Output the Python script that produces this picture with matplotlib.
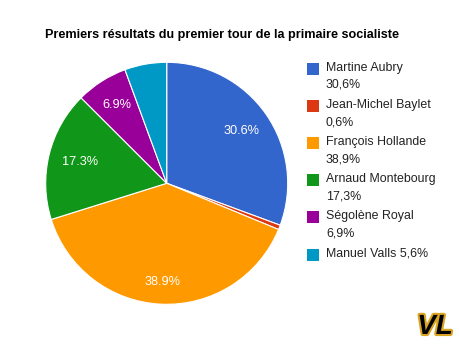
import matplotlib
matplotlib.use("Agg")
import matplotlib.pyplot as plt
import matplotlib.patheffects as pe
from matplotlib.patches import Rectangle
import numpy as np

plt.rcParams['font.family'] = ['Liberation Sans', 'DejaVu Sans']

title = "Premiers résultats du premier tour de la primaire socialiste"
candidates = ["Martine Aubry", "Jean-Michel Baylet", "François Hollande",
              "Arnaud Montebourg", "Ségolène Royal", "Manuel Valls"]
scores = [30.6, 0.6, 38.9, 17.3, 6.9, 5.6]
legend_labels = ["Martine Aubry\n30,6%", "Jean-Michel Baylet\n0,6%",
                 "François Hollande\n38,9%", "Arnaud Montebourg\n17,3%",
                 "Ségolène Royal\n6,9%", "Manuel Valls 5,6%"]
colors = ["#3366cc", "#dc3912", "#ff9900", "#109618", "#990099", "#0099c6"]

W, H = 460, 346
fig = plt.figure(figsize=(W / 100, H / 100), dpi=100)

# pie, centre (166.7, 183.3) px, radius 121 px
cx, cy, r = 166.7, 183.3, 121
ax = fig.add_axes([(cx - r) / W, (H - cy - r) / H, 2 * r / W, 2 * r / H])
wedges, _ = ax.pie(scores, colors=colors, startangle=90, counterclock=False,
                   wedgeprops=dict(edgecolor="white", linewidth=0.8))
ax.set_xlim(-1, 1)
ax.set_ylim(-1, 1)
ax.axis("off")

# slice labels (only for slices big enough)
label_r = [0.75, 0, 0.82, 0.74, 0.77, 0]
for w, v, d in zip(wedges, scores, label_r):
    if v < 6:
        continue
    mid = np.deg2rad((w.theta1 + w.theta2) / 2)
    ax.text(d * np.cos(mid), d * np.sin(mid), f"{v:.1f}%", color="white",
            fontsize=9.2, ha="center", va="center")

# title
fig.text(45 / W, 1 - 35 / H, title, fontsize=9.1, fontweight="bold",
         ha="left", va="center", color="#000000")

# legend
top = 62.5
step = 37.2
for i, (lab, c) in enumerate(zip(legend_labels, colors)):
    y = top + i * step
    fig.patches.append(Rectangle((307 / W, 1 - (y + 12) / H), 12 / W, 12 / H,
                                 transform=fig.transFigure, color=c, lw=0))
    fig.text(326 / W, 1 - (y - 1) / H, lab, fontsize=8.9, ha="left", va="top",
             color="#222222", linespacing=1.6)

# logo
fig.text(435 / W, 1 - 327 / H, "VL", fontsize=20, fontweight="bold",
         style="italic", ha="center", va="center", color="black",
         path_effects=[pe.withStroke(linewidth=3, foreground="#d9a520")])

fig.savefig("out.png", dpi=100)
